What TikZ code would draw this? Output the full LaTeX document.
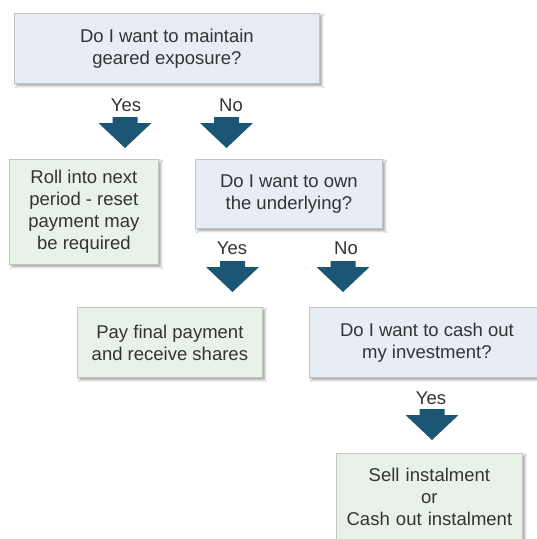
\documentclass[tikz,border=0pt]{standalone}
\usepackage{fontspec}
\setmainfont{Liberation Sans}
\usetikzlibrary{shadows.blur}
\definecolor{qfill}{RGB}{231,236,245}
\definecolor{afill}{RGB}{233,242,232}
\definecolor{bordercol}{RGB}{196,196,196}
\definecolor{arrowcol}{RGB}{28,86,117}
\definecolor{txtcol}{RGB}{51,51,51}
\tikzset{
  box/.style={draw=bordercol, line width=0.8pt, anchor=north west, inner sep=0pt,
    align=center, text=txtcol, font=\fontsize{18.5}{22}\selectfont,
    blur shadow={shadow xshift=2.5pt, shadow yshift=-2.5pt, shadow blur radius=2pt, shadow opacity=35}},
  qbox/.style={box, fill=qfill},
  abox/.style={box, fill=afill},
  lbl/.style={text=txtcol, font=\fontsize{18.5}{22}\selectfont, inner sep=0pt},
  blockarrowstyle/.style={fill=arrowcol},
}
\newcommand\blockarrow[1]{%
  \fill[blockarrowstyle] (#1) ++(-12.5,0) -- ++(25,0) -- ++(0,6) -- ++(14,0)
    -- ++(-26.5,25) -- ++(-26.5,-25) -- ++(14,0) -- cycle;}
\begin{document}
\begin{tikzpicture}[x=1pt,y=-1pt]
\useasboundingbox (0,0) rectangle (537,539);
\clip (0,0) rectangle (537,539);
\fill[white] (0,0) rectangle (537,539);

% boxes
\node[qbox, minimum width=305pt, minimum height=70pt] (q1) at (14,13)
  {Do I want to maintain\\geared exposure?};
\node[abox, minimum width=149pt, minimum height=105pt] (a1) at (9,159)
  {Roll into next\\period - reset\\payment may\\be required};
\node[qbox, minimum width=187pt, minimum height=69pt] (q2) at (195,159)
  {Do I want to own\\the underlying?};
\node[abox, minimum width=185pt, minimum height=70pt] (a2) at (77,307)
  {Pay final payment\\and receive shares};
\node[qbox, minimum width=235pt, minimum height=70pt] (q3) at (309,307)
  {Do I want to cash out\\my investment?};
\node[abox, text width=186pt, text height=28pt, text depth=90pt] (a3) at (336,453)
  {Sell instalment\\or\\Cash out instalment};

% labels
\node[lbl] (y1) at (126,105) {Yes};
\node[lbl] (n1) at (231,105) {No};
\node[lbl] (y2) at (232,248) {Yes};
\node[lbl] (n2) at (346,248) {No};
\node[lbl] (y3) at (431,398.5) {Yes};

% arrows
\coordinate (ar1) at (125,117);
\coordinate (ar2) at (226.5,117);
\coordinate (ar3) at (232.5,261);
\coordinate (ar4) at (343,261);
\coordinate (ar5) at (432,409);
\blockarrow{ar1}
\blockarrow{ar2}
\blockarrow{ar3}
\blockarrow{ar4}
\blockarrow{ar5}
\end{tikzpicture}
\end{document}
